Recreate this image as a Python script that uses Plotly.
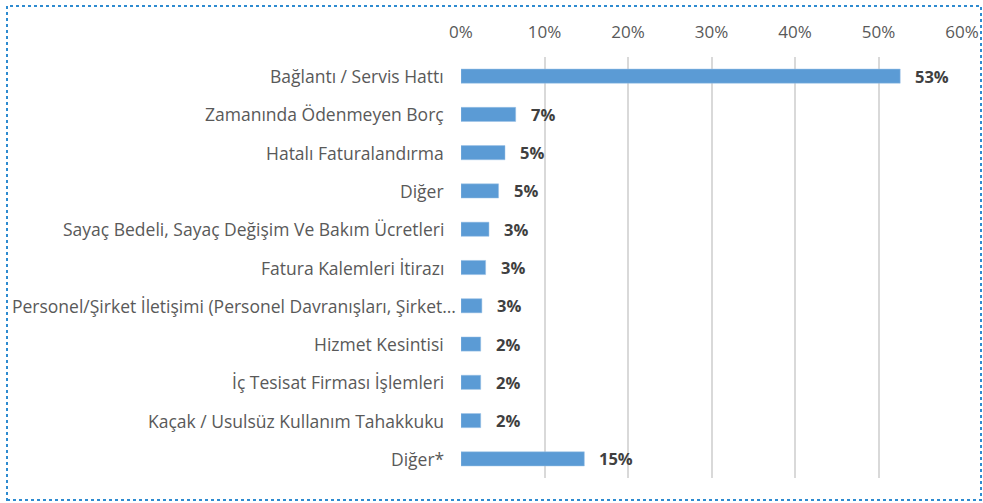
import plotly.graph_objects as go

categories = [
    "Bağlantı / Servis Hattı",
    "Zamanında Ödenmeyen Borç",
    "Hatalı Faturalandırma",
    "Diğer",
    "Sayaç Bedeli, Sayaç Değişim Ve Bakım Ücretleri",
    "Fatura Kalemleri İtirazı",
    "Personel/Şirket İletişimi (Personel Davranışları, Şirket…",
    "Hizmet Kesintisi",
    "İç Tesisat Firması İşlemleri",
    "Kaçak / Usulsüz Kullanım Tahakkuku",
    "Diğer*",
]
values = [0.526, 0.0655, 0.0527, 0.045, 0.0335, 0.0295, 0.025, 0.0236, 0.0236, 0.0236, 0.1477]
value_labels = ["53%", "7%", "5%", "5%", "3%", "3%", "3%", "2%", "2%", "2%", "15%"]
x_ticks = [0, 0.1, 0.2, 0.3, 0.4, 0.5, 0.6]
x_tick_labels = ["0%", "10%", "20%", "30%", "40%", "50%", "60%"]

W, H = 983, 503
ML, MR, MT, MB = 461, 21, 57, 25
FONT = "Open Sans, sans-serif"

fig = go.Figure()
fig.add_trace(go.Bar(
    y=categories, x=values, orientation="h",
    marker=dict(color="#5B9BD5", line=dict(color="#9DC3E6", width=0.5)),
    width=0.37, hoverinfo="skip",
))

for c, v, t in zip(categories, values, value_labels):
    fig.add_annotation(x=v, y=c, text=f"<b>{t}</b>", showarrow=False,
                       xanchor="left", xshift=13,
                       font=dict(family=FONT, size=16.5, color="#404040"))

# category labels (the truncated one sits a bit closer to the axis, as in the reference)
for c in categories:
    shift = -3 if c.endswith("…") else -15
    fig.add_annotation(xref="paper", x=0, y=c, text=c, showarrow=False,
                       xanchor="right", xshift=shift,
                       font=dict(family=FONT, size=17.5, color="#595959"))

pw = W - ML - MR
ph = H - MT - MB
def px_x(p):
    return (p - ML) / pw
def px_y(p):
    return (H - MB - p) / ph

fig.add_shape(type="rect", xref="paper", yref="paper",
              x0=px_x(7), x1=px_x(981), y0=px_y(500), y1=px_y(6),
              line=dict(color="#2E8BD0", width=2, dash="dot"), fillcolor="rgba(0,0,0,0)",
              layer="above")

fig.update_layout(
    width=W, height=H,
    margin=dict(l=ML, r=MR, t=MT, b=MB, pad=0, autoexpand=False),
    plot_bgcolor="white", paper_bgcolor="white",
    showlegend=False,
    font=dict(family=FONT, size=17, color="#595959"),
    xaxis=dict(side="top", range=[0, 0.6], tickvals=x_ticks, ticktext=x_tick_labels,
               showgrid=True, gridcolor="#D9D9D9", gridwidth=1.5, zeroline=False,
               showline=False, ticks="", tickfont=dict(size=17, color="#595959"),
               ticklabelstandoff=15, fixedrange=True, automargin=False),
    yaxis=dict(autorange="reversed", showgrid=False, zeroline=False, ticks="",
               showline=False, showticklabels=False, fixedrange=True, automargin=False),
    bargap=0.63,
)

fig.write_html("out.html", config={"displayModeBar": False},
               post_script="document.body.style.margin='0';document.body.style.padding='0';")
